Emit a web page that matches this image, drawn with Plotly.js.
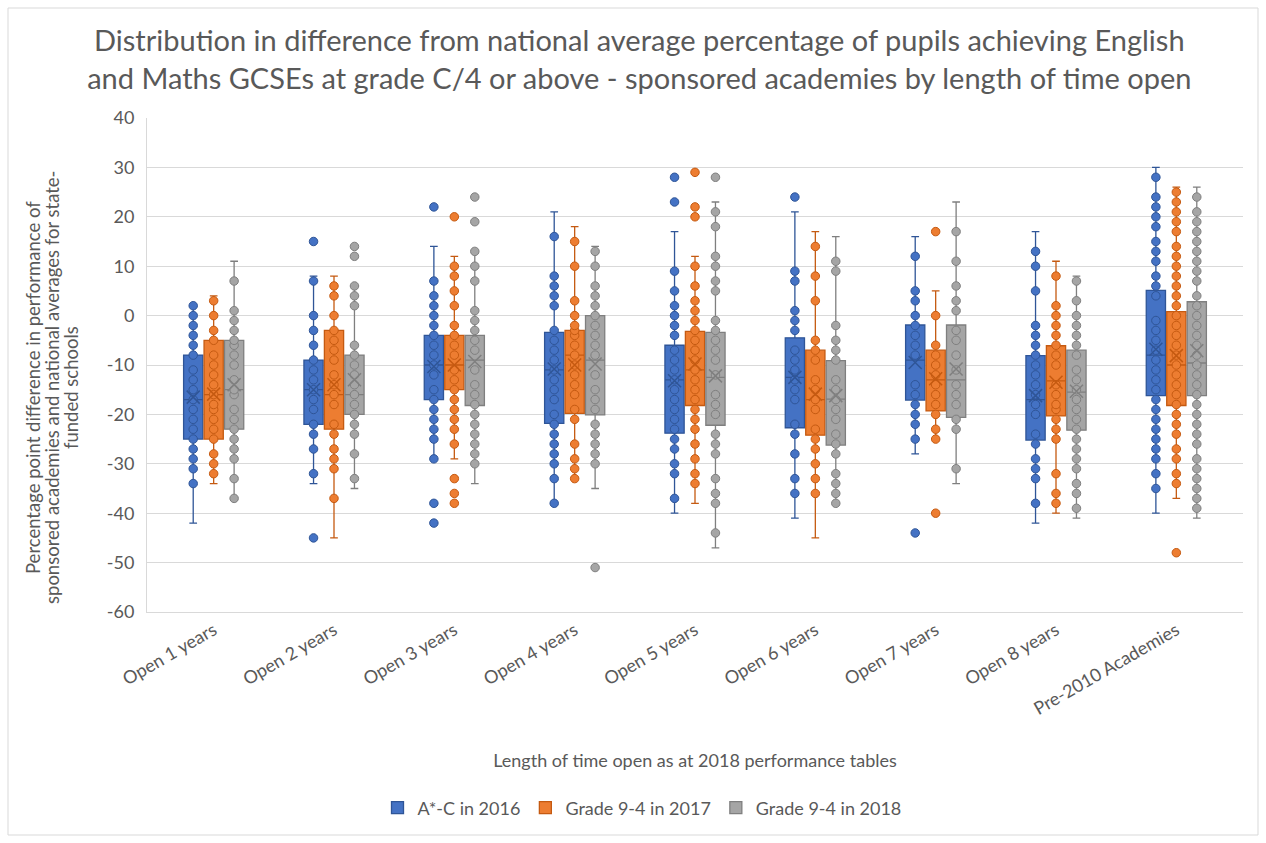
<!DOCTYPE html>
<html>
<head>
<meta charset="utf-8">
<script src="https://cdn.plot.ly/plotly-3.0.1.min.js"></script>
<style>
  html, body { margin: 0; padding: 0; background: #ffffff; }
  #chart { width: 1266px; height: 843px; }
</style>
</head>
<body>
<div id="chart"></div>
<script>
// ---------- DATA ----------
const categories = ["Open 1 years", "Open 2 years", "Open 3 years", "Open 4 years", "Open 5 years",
                    "Open 6 years", "Open 7 years", "Open 8 years", "Pre-2010 Academies"];
const seriesNames = ["A*-C in 2016", "Grade 9-4 in 2017", "Grade 9-4 in 2018"];

// A*-C in 2016
const s2016Points = [
  [2,0,-2,-4,-6,-8,-11,-13,-15,-17,-19,-21,-23,-25,-27,-29,-31,-34],
  [15,7,0,-3,-6,-9,-11,-13,-15,-17,-19,-22,-24,-27,-32,-45],
  [22,7,4,2,0,-2,-4,-6,-8,-10,-12,-15,-17,-19,-21,-23,-25,-29,-38,-42],
  [16,8,6,4,2,-3,-5,-7,-9,-11,-13,-15,-17,-20,-22,-24,-26,-28,-30,-33,-38],
  [28,23,9,5,2,0,-2,-4,-7,-9,-11,-13,-15,-17,-19,-21,-23,-25,-27,-30,-32,-37],
  [24,9,7,1,-1,-3,-7,-9,-11,-13,-15,-17,-22,-24,-28,-33,-36],
  [12,5,3,0,-2,-4,-6,-8,-14,-16,-18,-20,-22,-25,-44],
  [13,10,5,-2,-4,-6,-8,-10,-12,-14,-16,-18,-20,-24,-26,-29,-31,-33,-38],
  [28,24,22,20,18,15,13,11,8,6,4,-1,-3,-5,-7,-9,-11,-13,-15,-17,-19,-21,-23,-25,-27,-29,-32,-35]
];
const s2016Q1     = [-25, -22, -17, -21.8, -23.8, -22.7, -17.1, -25.2, -16.2];
const s2016Median = [-17, -15, -10, -11, -13, -12.5, -9, -17, -8];
const s2016Q3     = [-8, -9, -4, -3.4, -6, -4.5, -1.9, -8.1, 5.1];
const s2016Lower  = [-42, -34, -29, -38, -40, -41, -28, -42, -40];
const s2016Upper  = [2, 8, 14, 21, 17, 21, 16, 17, 30];
const s2016Mean   = [-16.5, -15, -10.3, -10.8, -13.2, -12.5, -9.5, -16.2, -6.8];

// Grade 9-4 in 2017
const s2017Points = [
  [3,0,-3,-5,-8,-10,-12,-14,-16,-18,-19,-21,-23,-25,-28,-30,-32],
  [6,4,0,-3,-5,-7,-9,-12,-14,-16,-18,-22,-24,-27,-29,-31,-37],
  [20,10,8,5,2,-2,-4,-6,-8,-11,-13,-15,-17,-19,-21,-23,-26,-33,-36,-38],
  [15,10,3,0,-2,-3,-4,-6,-8,-10,-12,-14,-16,-19,-21,-26,-29,-31,-33],
  [29,22,20,10,6,3,1,-1,-3,-5,-7,-9,-11,-13,-15,-17,-19,-21,-23,-26,-29,-32,-34],
  [14,8,3,-5,-7,-9,-13,-15,-17,-19,-23,-25,-27,-30,-33,-36],
  [17,0,-6,-8,-10,-12,-14,-16,-18,-20,-23,-25,-40],
  [8,2,0,-2,-4,-6,-8,-10,-14,-16,-18,-19,-21,-23,-25,-32,-36,-38],
  [25,23,21,19,17,14,12,10,8,6,4,2,0,-2,-4,-6,-8,-10,-12,-14,-16,-18,-20,-22,-24,-27,-29,-32,-34,-48]
];
const s2017Q1     = [-25, -23, -15, -19.8, -18.2, -24.2, -19.3, -20.3, -18.2];
const s2017Median = [-16, -16, -10, -8, -11, -17, -13, -13.2, -10];
const s2017Q3     = [-5, -3, -4, -3, -3.2, -7, -7, -6.1, 0.8];
const s2017Lower  = [-34, -45, -29, -33, -38, -45, -25, -40, -37];
const s2017Upper  = [4, 8, 12, 18, 12, 17, 5, 11, 26];
const s2017Mean   = [-15.9, -14, -10, -10, -9.8, -15.9, -12.8, -13.5, -8.1];

// Grade 9-4 in 2018
const s2018Points = [
  [7,1,-1,-3,-5,-6,-8,-10,-13,-15,-16,-19,-21,-23,-25,-27,-29,-33,-37],
  [14,12,6,4,2,-6,-8,-10,-12,-14,-16,-18,-20,-22,-24,-28,-33],
  [24,19,13,10,7,1,-1,-3,-5,-7,-11,-14,-16,-18,-20,-22,-24,-26,-28,-30],
  [13,10,6,4,2,0,-2,-4,-6,-8,-12,-15,-17,-19,-22,-24,-26,-28,-30,-51],
  [28,21,18,12,10,7,5,-1,-3,-5,-7,-9,-12,-16,-18,-20,-24,-26,-28,-33,-36,-38,-44],
  [11,9,-2,-5,-7,-9,-13,-15,-17,-19,-21,-24,-26,-28,-32,-34,-36,-38],
  [17,11,6,3,1,-3,-5,-8,-11,-14,-16,-18,-21,-23,-31],
  [7,3,0,-2,-4,-6,-8,-11,-13,-15,-17,-19,-21,-23,-25,-27,-29,-31,-34,-36,-39],
  [24,21,19,17,15,13,11,9,7,4,2,0,-2,-4,-6,-8,-10,-12,-14,-16,-18,-20,-22,-24,-26,-29,-31,-33,-35,-37,-39]
];
const s2018Q1     = [-23, -20, -18.2, -20.1, -22.2, -26.2, -20.6, -23.2, -16.2];
const s2018Median = [-15, -16, -9, -9, -12.5, -16.9, -13, -15.5, -9.6];
const s2018Q3     = [-5, -8, -4, 0, -3.4, -9.1, -1.9, -7, 2.8];
const s2018Lower  = [-37, -35, -34, -35, -47, -38, -34, -41, -41];
const s2018Upper  = [11, 6, 13, 14, 23, 16, 23, 8, 26];
const s2018Mean   = [-14, -13, -9.3, -9.8, -12.2, -16.2, -10.8, -15.3, -7.1];

const yTickVals = [40, 30, 20, 10, 0, -10, -20, -30, -40, -50, -60];
const chartTitle = "Distribution in difference from national average percentage of pupils achieving English<br>and Maths GCSEs at grade C/4 or above - sponsored academies by length of time open";
const xTitle = "Length of time open as at 2018 performance tables";
const yTitleLines = ["Percentage point difference in performance of",
                     "sponsored academies and national averages for state-",
                     "funded schools"];

// ---------- STYLE ----------
const fills  = ["#4472C4", "#ED7D31", "#A5A5A5"];
const darks  = ["#2F5597", "#C55A11", "#7F7F7F"];
const textColor = "#595959";
const fontFam = "Lato, 'Open Sans', sans-serif";

const allSeries = [
  {points: s2016Points, q1: s2016Q1, med: s2016Median, q3: s2016Q3, lo: s2016Lower, hi: s2016Upper, mean: s2016Mean},
  {points: s2017Points, q1: s2017Q1, med: s2017Median, q3: s2017Q3, lo: s2017Lower, hi: s2017Upper, mean: s2017Mean},
  {points: s2018Points, q1: s2018Q1, med: s2018Median, q3: s2018Q3, lo: s2018Lower, hi: s2018Upper, mean: s2018Mean}
];

const boxTraces = [], pointTraces = [], meanTraces = [];
allSeries.forEach((s, i) => {
  const grp = "g" + i;
  boxTraces.push({
    type: "box", name: seriesNames[i], x: categories,
    q1: s.q1, median: s.med, q3: s.q3, lowerfence: s.lo, upperfence: s.hi,
    fillcolor: fills[i], line: {color: darks[i], width: 1.3},
    whiskerwidth: 0.4, boxpoints: false,
    offsetgroup: grp, legendgroup: grp, showlegend: true, hoverinfo: "y"
  });
  const px = [], py = [];
  s.points.forEach((arr, c) => arr.forEach(v => { px.push(categories[c]); py.push(v); }));
  pointTraces.push({
    type: "box", name: seriesNames[i], x: px, y: py,
    boxpoints: "all", jitter: 0, pointpos: 0,
    fillcolor: "rgba(0,0,0,0)", line: {color: "rgba(0,0,0,0)", width: 0},
    whiskerwidth: 0,
    marker: {color: fills[i], size: 8.5, line: {color: darks[i], width: 1}},
    offsetgroup: grp, legendgroup: grp, showlegend: false, hoverinfo: "y"
  });
  meanTraces.push({
    type: "box", name: seriesNames[i] + " mean", x: categories, y: s.mean,
    boxpoints: "all", jitter: 0, pointpos: 0,
    fillcolor: "rgba(0,0,0,0)", line: {color: "rgba(0,0,0,0)", width: 0},
    whiskerwidth: 0,
    marker: {symbol: "x-thin-open", size: 13, color: darks[i], line: {color: darks[i], width: 1.5}},
    offsetgroup: grp, legendgroup: grp, showlegend: false, hoverinfo: "y"
  });
});

const data = boxTraces.concat(pointTraces, meanTraces);

// plot area in pixels: x 147..1243, y 118..612
const L = 147, R = 23, T = 118, B = 231;
const PW = 1266 - L - R, PH = 843 - T - B;
const px2x = p => (p - L) / PW;
const py2y = p => (843 - B - p) / PH;

const yTitleX = [33, 52, 71];
const annotations = yTitleLines.map((t, k) => ({
  text: t, textangle: -90, showarrow: false,
  xref: "paper", yref: "paper", x: px2x(yTitleX[k]), y: py2y(388),
  xanchor: "center", yanchor: "middle",
  font: {family: fontFam, size: 18.5, color: textColor}
}));

const layout = {
  width: 1266, height: 843,
  margin: {l: L, r: R, t: T, b: B},
  paper_bgcolor: "#ffffff", plot_bgcolor: "#ffffff",
  font: {family: fontFam, color: textColor, size: 17},
  title: {
    text: chartTitle,
    font: {family: fontFam, size: 29, color: textColor},
    x: 0.505, xref: "container", xanchor: "center",
    y: 1 - 51 / 843, yref: "container", yanchor: "top"
  },
  boxmode: "group", boxgap: 0.49, boxgroupgap: 0.06,
  xaxis: {
    type: "category", categoryorder: "array", categoryarray: categories,
    tickangle: -30, tickfont: {size: 18, color: textColor},
    showgrid: false, zeroline: false, showline: true, linecolor: "#d9d9d9", linewidth: 1,
    ticks: "",
    title: {text: xTitle, font: {size: 18, color: textColor}, standoff: 36}
  },
  yaxis: {
    range: [-60, 40], tickvals: yTickVals, ticktext: yTickVals.map(String),
    tickfont: {size: 18, color: textColor}, ticklabelstandoff: 8,
    showgrid: true, gridcolor: "#d9d9d9", gridwidth: 1,
    zeroline: false, showline: true, linecolor: "#d9d9d9", linewidth: 1, ticks: ""
  },
  legend: {
    orientation: "h", x: px2x(642), xanchor: "center", y: py2y(808), yanchor: "middle",
    font: {size: 18, color: textColor}, itemclick: false, bgcolor: "rgba(0,0,0,0)"
  },
  annotations: annotations,
  shapes: [{
    type: "rect", xref: "paper", yref: "paper",
    x0: px2x(8), x1: px2x(1258), y0: py2y(835), y1: py2y(8),
    line: {color: "#d9d9d9", width: 1}, fillcolor: "rgba(0,0,0,0)", layer: "below"
  }]
};

Plotly.newPlot("chart", data, layout, {displayModeBar: false, staticPlot: true});
</script>
</body>
</html>
